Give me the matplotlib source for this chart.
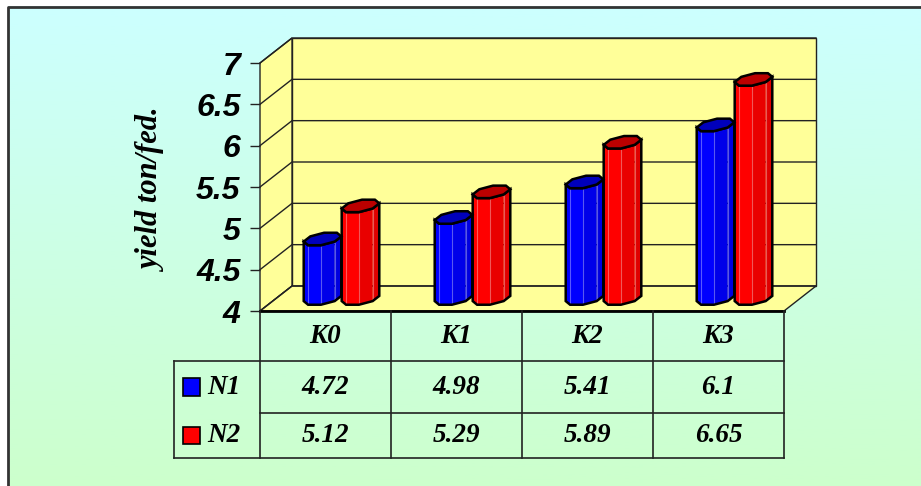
import matplotlib.pyplot as plt
import numpy as np
from matplotlib.patches import Polygon, Rectangle
from matplotlib.colors import LinearSegmentedColormap, to_rgb
from matplotlib.transforms import blended_transform_factory

categories = ["K0", "K1", "K2", "K3"]
series_names = ["N1", "N2"]
n1_yield = [4.72, 4.98, 5.41, 6.1]
n2_yield = [5.12, 5.29, 5.89, 6.65]
y_ticks = [4, 4.5, 5, 5.5, 6, 6.5, 7]

body_colors = ["#0000ff", "#ff0000"]
cap_colors = ["#0000bb", "#bb0000"]
wall_color = "#ffff99"
line_color = "#222222"

W, H = 921, 486
fig = plt.figure(figsize=(W / 100, H / 100), dpi=100)
fig.patch.set_facecolor("white")

# gradient panel behind everything
bg = fig.add_axes([0, 0, 1, 1])
grad = np.linspace(0, 1, 256)[:, None]
cmap = LinearSegmentedColormap.from_list("panel", ["#ccffff", "#ccffcc"])
bg.imshow(grad, cmap=cmap, extent=(8, W, H, 7), aspect="auto")
bg.plot([8, 8, W], [H, 7, 7], color="#333333", lw=2)
bg.set_xlim(0, W)
bg.set_ylim(H, 0)
bg.set_axis_off()

# front plane of the 3d plot
ax = fig.add_axes([260 / W, 1 - 311 / H, 524 / W, 248 / H])
ax.set_xlim(-0.5, 3.5)
ax.set_ylim(4, 7)
ax.patch.set_visible(False)
for s in ax.spines.values():
    s.set_visible(False)
ax.set_xticks([])
ax.set_yticks(y_ticks, labels=[f"{t:g}" for t in y_ticks],
              family="Liberation Sans", fontweight="bold", fontstyle="italic",
              fontsize=23)
ax.tick_params(axis="y", length=7, width=1, color=line_color, pad=7)

# depth of the box in data units
kx = 32 / 524 * 4
ky = 25 / 248 * 3

back = Rectangle((-0.5 + kx, 4 + ky), 4, 3, facecolor=wall_color,
                 edgecolor=line_color, lw=1, clip_on=False, zorder=1)
left = Polygon([(-0.5, 4), (-0.5, 7), (-0.5 + kx, 7 + ky), (-0.5 + kx, 4 + ky)],
               closed=True, facecolor=wall_color, edgecolor=line_color, lw=1,
               clip_on=False, zorder=1)
floor = Polygon([(-0.5, 4), (3.5, 4), (3.5 + kx, 4 + ky), (-0.5 + kx, 4 + ky)],
                closed=True, facecolor=wall_color, edgecolor=line_color, lw=1,
                clip_on=False, zorder=1)
for p in (back, left, floor):
    ax.add_patch(p)
for t in y_ticks:
    ax.plot([-0.5, -0.5 + kx, 3.5 + kx], [t, t + ky, t + ky],
            color=line_color, lw=1, clip_on=False, zorder=2)
ax.plot([-0.5, 3.5], [4, 4], color="black", lw=2, clip_on=False, zorder=2)

# faceted columns
R = 0.128
RZ = 0.27
theta = np.pi / 8 + np.arange(8) * np.pi / 4


def shade(color, f):
    r, g, b = to_rgb(color)
    return (r * f, g * f, b * f)


def draw_column(cx, value, body, cap):
    mx, my = 0.5 * kx, 0.5 * ky
    px = cx + mx + R * np.cos(theta) + RZ * np.sin(theta) * kx
    dz = my + RZ * np.sin(theta) * ky
    yb = 4 + dz
    yt = value + dz
    vis = [k for k in range(8) if px[(k + 1) % 8] > px[k]]
    start = [k for k in vis if (k - 1) % 8 not in vis][0]
    chain = [(start + i) % 8 for i in range(len(vis) + 1)]
    for k in vis:
        j = (k + 1) % 8
        normal = theta[k] + np.pi / 8
        f = 1.0 - 0.12 * max(0.0, np.cos(normal))
        ax.add_patch(Polygon([(px[k], yb[k]), (px[j], yb[j]), (px[j], yt[j]), (px[k], yt[k])],
                             closed=True, facecolor=shade(body, f), edgecolor="none",
                             clip_on=False, zorder=3))
    for k in chain[1:-1]:
        ax.plot([px[k], px[k]], [yb[k], yt[k]], color=(1, 1, 1, 0.35), lw=0.8,
                clip_on=False, zorder=3)
    outline = [(px[k], yb[k]) for k in chain] + [(px[k], yt[k]) for k in chain[::-1]]
    ax.add_patch(Polygon(outline, closed=True, facecolor="none", edgecolor="black",
                         lw=1.8, clip_on=False, zorder=4))
    ax.add_patch(Polygon(list(zip(px, yt)), closed=True, facecolor=cap, edgecolor="black",
                         lw=1.8, clip_on=False, zorder=5))


offsets = [-0.145, 0.145]
for i in range(len(categories)):
    for s, vals in enumerate([n1_yield, n2_yield]):
        draw_column(i + offsets[s], vals[i], body_colors[s], cap_colors[s])

ax.set_ylabel("yield ton/fed.", family="Liberation Serif", fontweight="bold",
              fontstyle="italic", fontsize=22)
ax.yaxis.set_label_coords(-0.178, 0.484)

# data table under the plot
tr = blended_transform_factory(ax.transData, ax.transAxes)
rows = [0, -50 / 248, -102 / 248, -147 / 248]
legend_x = -0.5 + (174 - 260) / 131
tkw = dict(transform=tr, clip_on=False, color=line_color, lw=1.2)
ax.plot([legend_x, 3.5], [rows[1], rows[1]], **tkw)
ax.plot([-0.5, 3.5], [rows[2], rows[2]], **tkw)
ax.plot([legend_x, 3.5], [rows[3], rows[3]], **tkw)
ax.plot([legend_x, legend_x], [rows[1], rows[3]], **tkw)
for xb in [-0.5, 0.5, 1.5, 2.5, 3.5]:
    ax.plot([xb, xb], [rows[0], rows[3]], **tkw)

font = dict(family="Liberation Serif", fontweight="bold", fontstyle="italic",
            fontsize=19.5, transform=tr, va="center")
for i, c in enumerate(categories):
    ax.text(i, (rows[0] + rows[1]) / 2, c, ha="center", **font)
for s, vals in enumerate([n1_yield, n2_yield]):
    yc = (rows[s + 1] + rows[s + 2]) / 2
    for i, v in enumerate(vals):
        ax.text(i, yc, f"{v:g}", ha="center", **font)
    ax.add_patch(Rectangle((-0.5 + (183 - 260) / 131, yc - 0.0343), 17 / 131, 0.0686,
                           transform=tr, facecolor=body_colors[s], edgecolor="black",
                           lw=1.2, clip_on=False))
    ax.text(-0.5 + (207 - 260) / 131, yc, series_names[s], ha="left", **font)

fig.savefig("out.png", dpi=100)
